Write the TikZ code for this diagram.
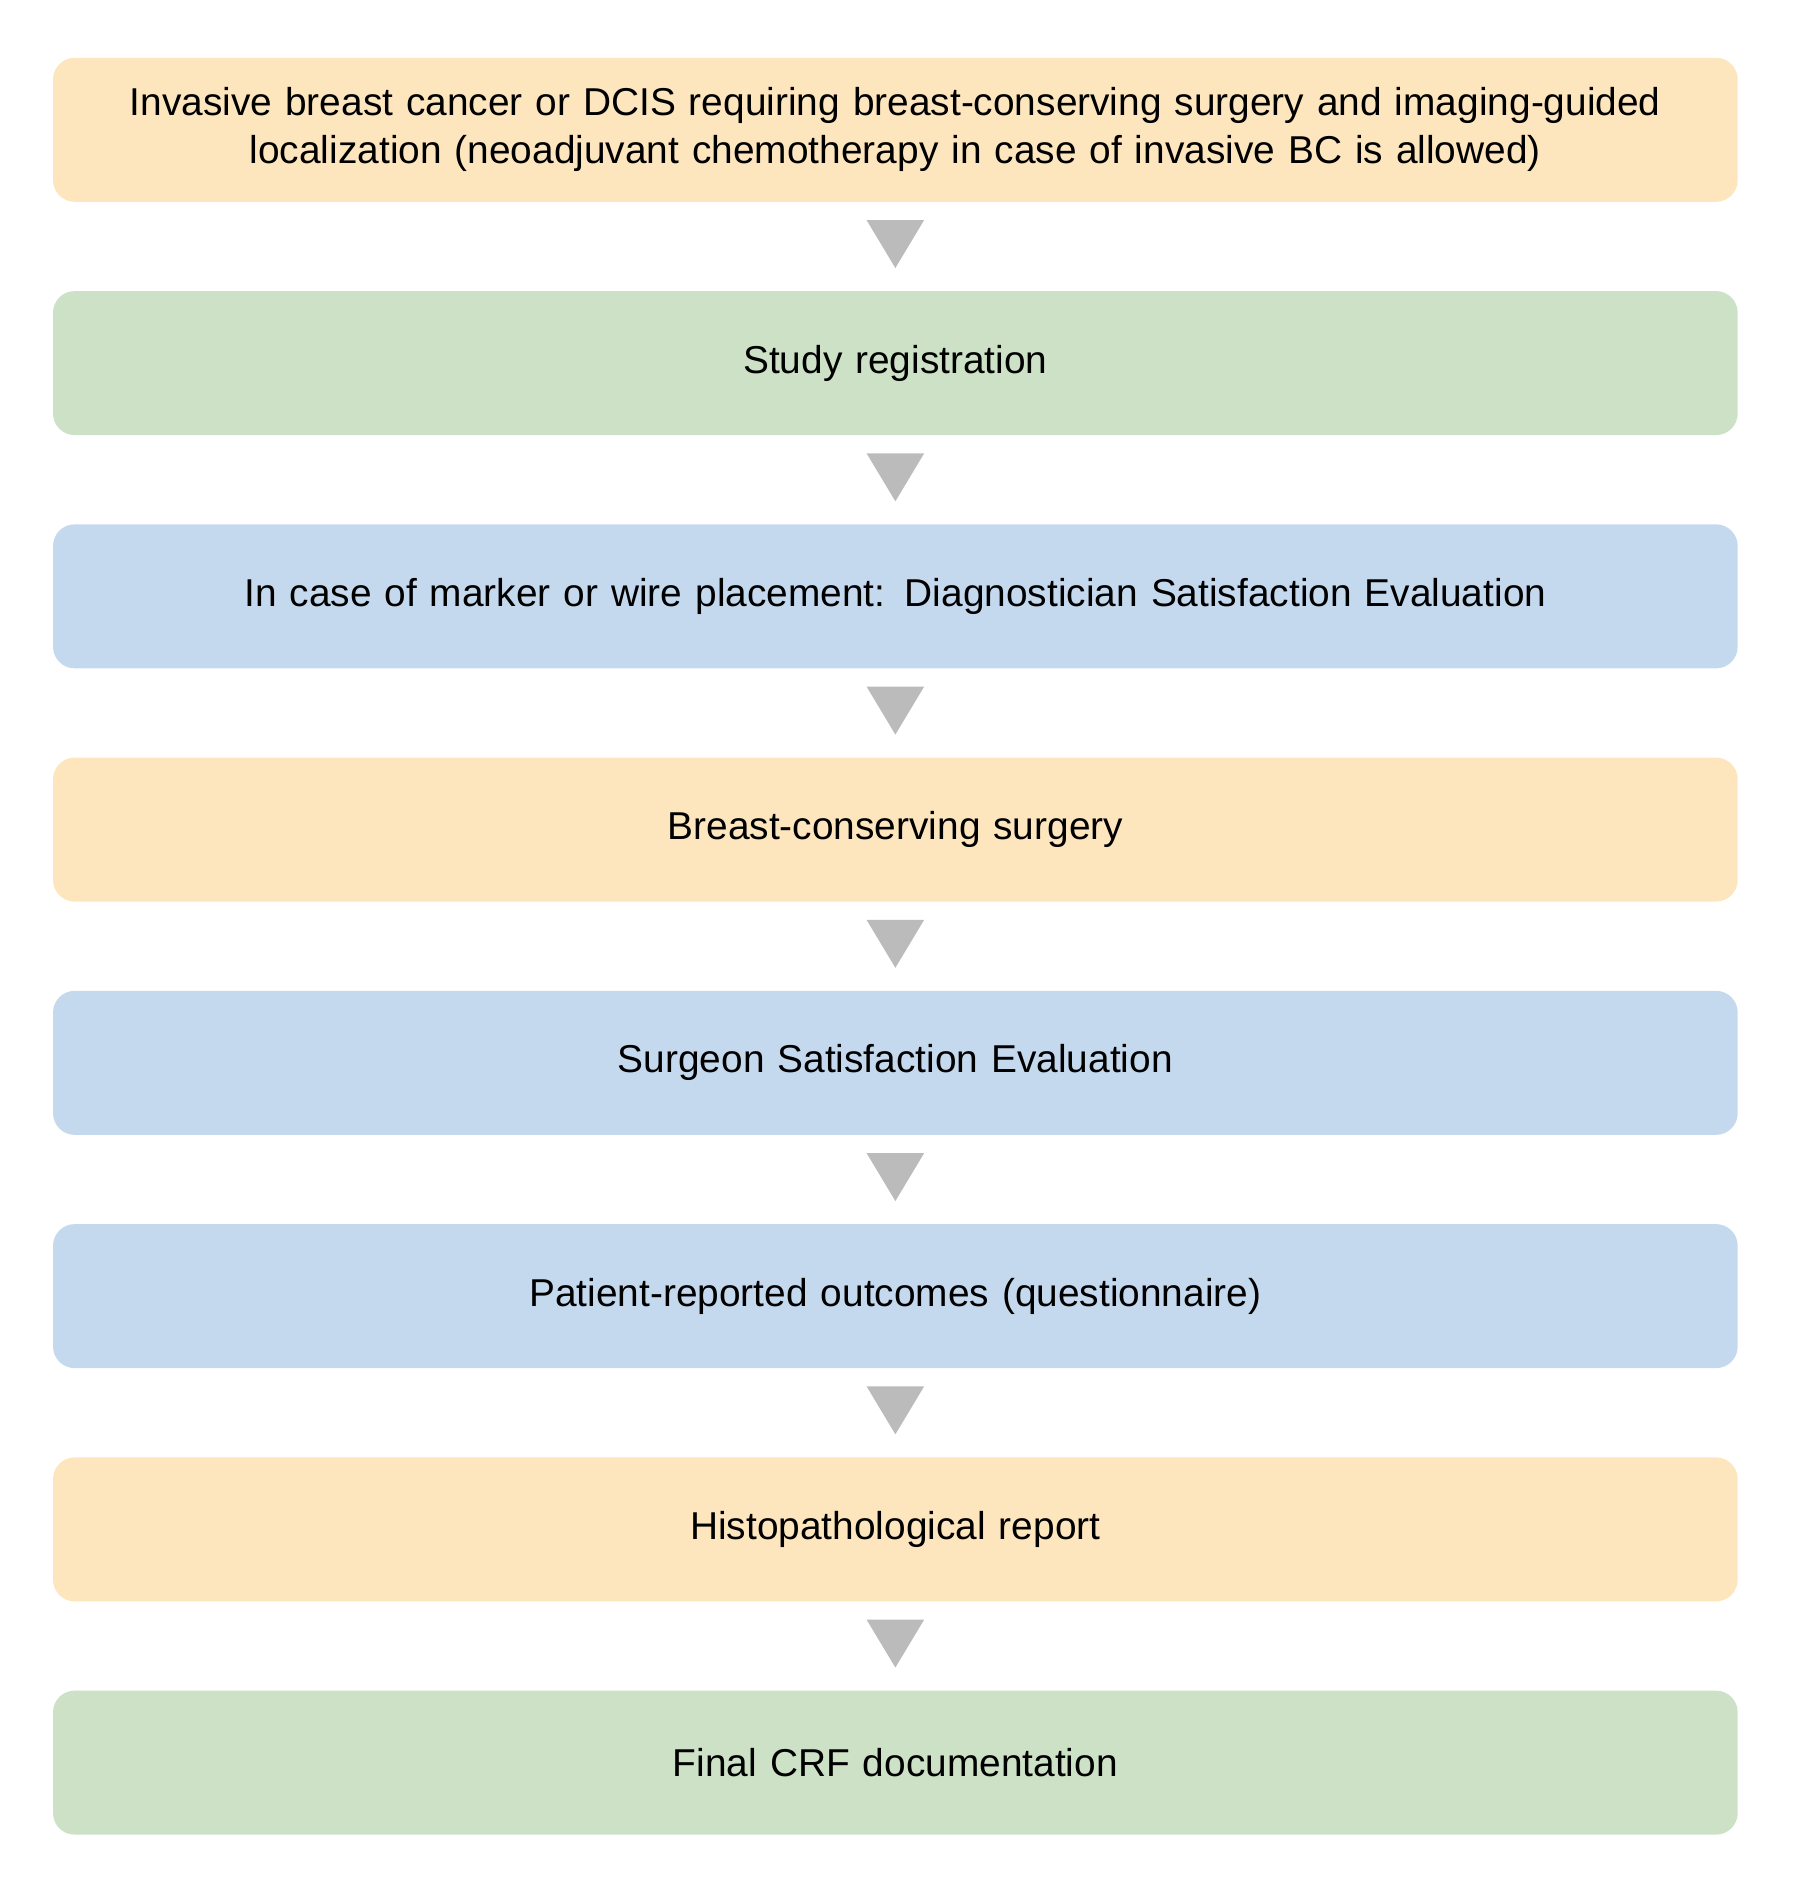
\documentclass[tikz,border=0pt]{standalone}
\usepackage{fontspec}
\setmainfont{Liberation Sans}
\usetikzlibrary{positioning,calc}
\definecolor{boxorange}{HTML}{FDE6BD}
\definecolor{boxgreen}{HTML}{CCE1C6}
\definecolor{boxblue}{HTML}{C5D9EE}
\definecolor{arrgray}{HTML}{BBBBBB}
\tikzset{
  stepbox/.style={rounded corners=18bp, minimum width=1404bp, minimum height=120bp,
    text width=1380bp, align=center, inner sep=0pt,
    font=\fontsize{32.5}{40}\selectfont},
  arr/.style={fill=arrgray}
}
\newcommand{\downarr}[2]{%
  \fill[arr] ($(#1.south)+(-24bp,-15bp)$) -- ($(#1.south)+(24bp,-15bp)$) -- ($(#1.south)+(0,-55bp)$) -- cycle;}
\begin{document}
\begin{tikzpicture}[x=1bp,y=1bp]
\useasboundingbox (0,0) rectangle (1500,-1581);

% boxes
\node[stepbox, fill=boxorange, anchor=north west] (incl) at (44,-48)
  {Invasive breast cancer or DCIS requiring breast-conserving surgery and imaging-guided\\ localization (neoadjuvant chemotherapy in case of invasive BC is allowed)};
\node[stepbox, fill=boxgreen, below=74bp of incl] (reg) {Study registration};
\node[stepbox, fill=boxblue, below=74bp of reg] (diag) {In case of marker or wire placement: Diagnostician Satisfaction Evaluation};
\node[stepbox, fill=boxorange, below=74bp of diag] (surg) {Breast-conserving surgery};
\node[stepbox, fill=boxblue, below=74bp of surg] (sse) {Surgeon Satisfaction Evaluation};
\node[stepbox, fill=boxblue, below=74bp of sse] (pro) {Patient-reported outcomes (questionnaire)};
\node[stepbox, fill=boxorange, below=74bp of pro] (histo) {Histopathological report};
\node[stepbox, fill=boxgreen, below=74bp of histo] (crf) {Final CRF documentation};

% arrows
\foreach \n in {incl,reg,diag,surg,sse,pro,histo}
  \downarr{\n}{};

\end{tikzpicture}
\end{document}
